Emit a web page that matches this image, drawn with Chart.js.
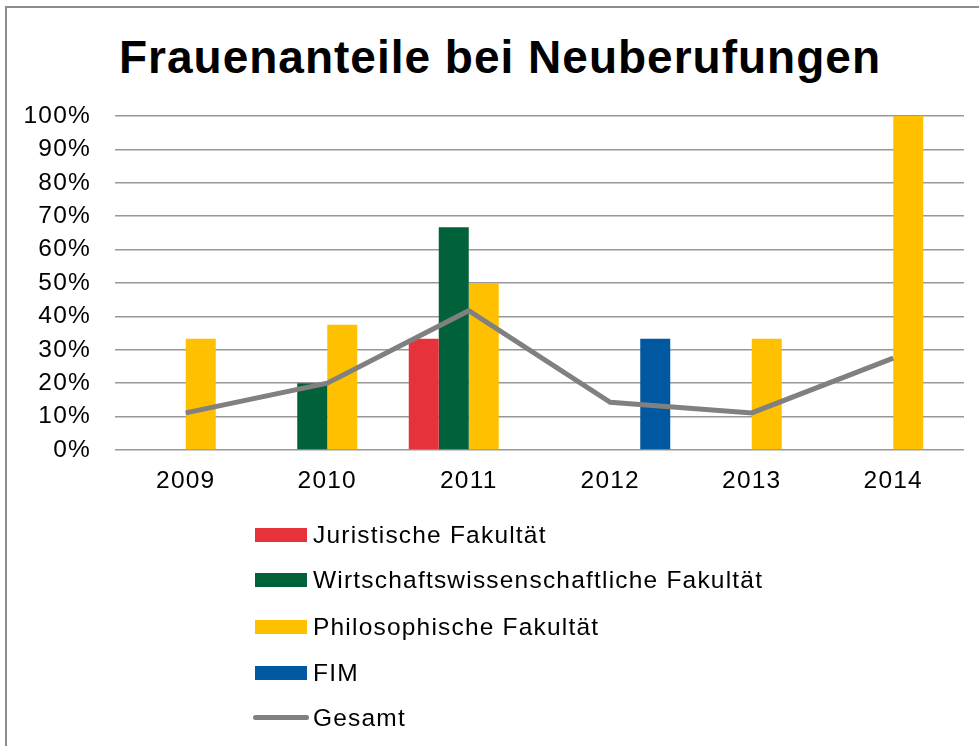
<!DOCTYPE html>
<html>
<head>
<meta charset="utf-8">
<script src="https://cdn.jsdelivr.net/npm/chart.js@4"></script>
<style>
  html, body { margin: 0; padding: 0; background: #fff; }
  body { width: 979px; height: 746px; position: relative; overflow: hidden; font-family: "Liberation Sans", Arial, sans-serif; }
  .frame { position: absolute; left: 5px; top: 6px; width: 1100px; height: 900px; border-left: 2px solid #8c8c8c; border-top: 2px solid #8c8c8c; }
  .title { position: absolute; left: 0; top: 34px; width: 1000px; text-align: center; font-size: 46px; line-height: 46px; font-weight: bold; letter-spacing: 1px; color: #000; }
  #wrap { position: absolute; left: 0; top: 0; width: 979px; height: 746px; }
  .legend { position: absolute; left: 255px; top: 0; }
  .legend .item { position: absolute; left: 0; height: 30px; white-space: nowrap; font-size: 24.5px; line-height: 30px; letter-spacing: 1.2px; color: #000; }
  .legend .sw { position: absolute; left: 0; top: 8px; width: 52px; height: 14px; }
  .legend .ln { position: absolute; left: -2px; top: 12px; width: 56px; height: 5px; border-radius: 3px; }
  .legend .txt { position: absolute; left: 58px; top: 0; }
</style>
</head>
<body>
<div class="frame"></div>
<div class="title">Frauenanteile bei Neuberufungen</div>
<div id="wrap"><canvas id="myChart" width="979" height="746"></canvas></div>
<div class="legend" id="legend"></div>
<script>
var years = ['2009', '2010', '2011', '2012', '2013', '2014'];
var juristische = [0, 0, 33.3, 0, 0, 0];
var wirtschaft = [0, 20, 66.7, 0, 0, 0];
var philosophie = [33.3, 37.5, 50, 0, 33.3, 100];
var fim = [0, 0, 0, 33.3, 0, 0];
var gesamt = [11.1, 20, 41.7, 14.3, 11.1, 27.5];

var seriesNames = ['Juristische Fakultät', 'Wirtschaftswissenschaftliche Fakultät', 'Philosophische Fakultät', 'FIM', 'Gesamt'];
var colors = ['#e5323b', '#00613a', '#ffc000', '#0058a0', '#808080'];

var tickFont = { family: '"Liberation Sans", Arial, sans-serif', size: 24.5 };

function barSet(i, values) {
  return {
    type: 'bar',
    label: seriesNames[i],
    data: values,
    backgroundColor: colors[i],
    borderWidth: 0,
    order: 1,
    categoryPercentage: 0.848,
    barPercentage: 1.0
  };
}

// the original's labels are a little wider than plain Arial
var spacingPlugin = {
  id: 'spacing',
  beforeInit: function(chart) { chart.ctx.letterSpacing = '1.2px'; },
  beforeDraw: function(chart) { chart.ctx.letterSpacing = '1.2px'; }
};

var ctx = document.getElementById('myChart').getContext('2d');
var myChart = new Chart(ctx, {
  data: {
    labels: years,
    datasets: [
      barSet(0, juristische),
      barSet(1, wirtschaft),
      barSet(2, philosophie),
      barSet(3, fim),
      {
        type: 'line',
        label: seriesNames[4],
        data: gesamt,
        borderColor: colors[4],
        backgroundColor: colors[4],
        borderWidth: 5,
        pointRadius: 0,
        tension: 0,
        order: 0
      }
    ]
  },
  plugins: [spacingPlugin],
  options: {
    responsive: false,
    animation: false,
    layout: { padding: { left: 0, right: 15, top: 116, bottom: 0 } },
    plugins: {
      legend: { display: false },
      title: { display: false },
      tooltip: { enabled: false }
    },
    scales: {
      x: {
        grid: { display: false, drawTicks: false },
        border: { display: false },
        ticks: { color: '#000', font: tickFont, padding: 17, maxRotation: 0 },
        afterFit: function(scale) { scale.height = 296; }
      },
      y: {
        min: 0,
        max: 100,
        grid: { color: '#989898', lineWidth: 1.6, drawTicks: false },
        border: { display: false },
        ticks: {
          stepSize: 10,
          color: '#000',
          font: tickFont,
          padding: 24,
          callback: function(v) { return v + '%'; }
        },
        afterFit: function(scale) { scale.width = 115; }
      }
    }
  }
});

// legend in a single column below the plot, like the original
var rowsY = [520, 565, 612, 658, 703];
var html = '';
seriesNames.forEach(function(name, i) {
  var mark = i === 4
    ? '<span class="ln" style="background:' + colors[i] + '"></span>'
    : '<span class="sw" style="background:' + colors[i] + '"></span>';
  html += '<div class="item" style="top:' + rowsY[i] + 'px">' + mark + '<span class="txt">' + name + '</span></div>';
});
document.getElementById('legend').innerHTML = html;
</script>
</body>
</html>
